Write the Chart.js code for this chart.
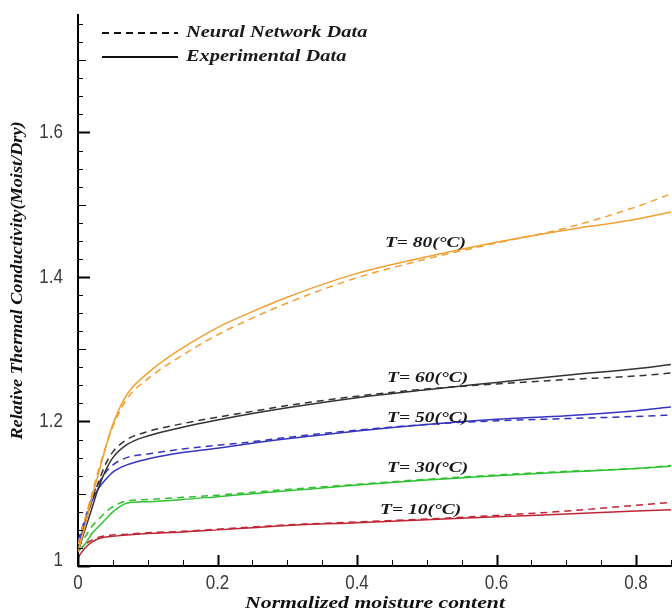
<!DOCTYPE html>
<html>
<head>
<meta charset="utf-8">
<script src="https://cdn.jsdelivr.net/npm/chart.js@4.4.1/dist/chart.umd.min.js"></script>
<style>
  html, body { margin: 0; padding: 0; background: #fff; }
  #wrap { width: 672px; height: 614px; position: relative; }
</style>
</head>
<body>
<div id="wrap"><canvas id="chart"></canvas></div>
<script>
/* ==================== DATA ==================== */

const moisture = [0, 0.01, 0.02, 0.03, 0.04, 0.05, 0.07, 0.1, 0.15, 0.2, 0.25, 0.3, 0.4, 0.5, 0.6, 0.7, 0.8, 0.85];

// experimental (solid) and neural network (dashed) curves
const exp80 = [1.02, 1.055, 1.095, 1.13, 1.165, 1.196, 1.237, 1.267, 1.302, 1.33, 1.352, 1.372, 1.405, 1.428, 1.448, 1.465, 1.480, 1.490];
const nn80  = [1.03, 1.065, 1.10, 1.135, 1.166, 1.193, 1.231, 1.259, 1.292, 1.32, 1.343, 1.364, 1.399, 1.425, 1.447, 1.468, 1.497, 1.515];
const exp60 = [1.02, 1.05, 1.08, 1.11, 1.133, 1.15, 1.168, 1.18, 1.192, 1.202, 1.211, 1.219, 1.233, 1.244, 1.254, 1.264, 1.273, 1.279];
const nn60  = [1.03, 1.06, 1.09, 1.118, 1.142, 1.158, 1.175, 1.186, 1.197, 1.206, 1.214, 1.222, 1.235, 1.245, 1.252, 1.258, 1.263, 1.267];
const exp50 = [1.03, 1.06, 1.09, 1.108, 1.12, 1.13, 1.14, 1.148, 1.157, 1.163, 1.170, 1.176, 1.187, 1.196, 1.203, 1.208, 1.215, 1.220];
const nn50  = [1.035, 1.065, 1.095, 1.115, 1.13, 1.14, 1.15, 1.155, 1.162, 1.167, 1.172, 1.178, 1.188, 1.196, 1.201, 1.204, 1.207, 1.209];
const exp30 = [1.02, 1.03, 1.045, 1.055, 1.065, 1.075, 1.087, 1.089, 1.092, 1.096, 1.100, 1.104, 1.112, 1.119, 1.125, 1.130, 1.135, 1.138];
const nn30  = [1.025, 1.04, 1.055, 1.065, 1.075, 1.082, 1.09, 1.092, 1.095, 1.098, 1.102, 1.106, 1.113, 1.120, 1.126, 1.131, 1.135, 1.139];
const exp10 = [1.012, 1.025, 1.033, 1.038, 1.040, 1.041, 1.043, 1.045, 1.047, 1.050, 1.053, 1.056, 1.060, 1.064, 1.068, 1.072, 1.076, 1.078];
const nn10  = [1.02, 1.03, 1.036, 1.04, 1.042, 1.043, 1.044, 1.046, 1.048, 1.051, 1.054, 1.057, 1.061, 1.065, 1.070, 1.076, 1.084, 1.088];

const xTickValues = [0, 0.2, 0.4, 0.6, 0.8];
const xTickLabels = ['0', '0.2', '0.4', '0.6', '0.8'];
const yTickValues = [1, 1.2, 1.4, 1.6];
const yTickLabels = ['1', '1.2', '1.4', '1.6'];

// curve annotations: text, x, y (data units, left/middle anchor)
const curveLabels = ['T= 80(°C)', 'T= 60(°C)', 'T= 50(°C)', 'T= 30(°C)', 'T= 10(°C)'];
const curveLabelX = [0.44, 0.443, 0.443, 0.443, 0.433];
const curveLabelY = [1.447, 1.260, 1.205, 1.136, 1.078];

const legendNames = ['Neural Network Data', 'Experimental Data'];
const xTitle = 'Normalized moisture content';
const yTitle = 'Relative Thermal Conductivity(Moist/Dry)';

/* ==================== STYLE ==================== */

const COLORS = {
    t80: '#f0a030',
    t60: '#333333',
    t50: '#3535c0',
    t30: '#30c030',
    t10: '#c02535'
};
const DASH = [7, 5];
const SERIF = "'Liberation Serif', 'DejaVu Serif', serif";
const SANS = "'Liberation Sans', Arial, sans-serif";

function pts(ys) {
    return moisture.map((x, i) => ({ x: x, y: ys[i] }));
}

function line(ys, color, dashed) {
    return {
        data: pts(ys),
        borderColor: color,
        borderWidth: 1.5,
        borderDash: dashed ? DASH : [],
        pointRadius: 0,
        fill: false,
        cubicInterpolationMode: 'monotone'
    };
}

// text squeezed/stretched horizontally like the scanned figure
function stretchText(ctx, text, x, y, sx, align, rot) {
    ctx.save();
    ctx.translate(x, y);
    if (rot) ctx.rotate(rot);
    ctx.scale(sx, 1);
    ctx.textAlign = align;
    ctx.fillText(text, 0, 0);
    ctx.restore();
}

/* ==================== PLUGINS ==================== */

const tickMarks = {
    id: 'tickMarks',
    afterDraw(chart) {
        const { ctx, chartArea: a, scales: { x, y } } = chart;
        ctx.save();
        ctx.strokeStyle = '#000';
        // x ticks, every 0.05, major every 0.2
        for (let i = 0; i * 0.05 <= x.max + 1e-9; i++) {
            const px = Math.round(x.getPixelForValue(i * 0.05)) + 0.5;
            const major = i % 4 === 0;
            ctx.lineWidth = major ? 2 : 1;
            ctx.beginPath();
            ctx.moveTo(px, a.bottom);
            ctx.lineTo(px, a.bottom - (major ? 11 : 6));
            ctx.stroke();
        }
        // y ticks, every 0.025, medium every 0.1, major every 0.2
        for (let i = 0; 1 + i * 0.025 <= y.max + 1e-9; i++) {
            const py = Math.round(y.getPixelForValue(1 + i * 0.025)) + 0.5;
            const major = i % 8 === 0;
            const medium = i % 4 === 0;
            ctx.lineWidth = major ? 2 : 1;
            ctx.beginPath();
            ctx.moveTo(a.left, py);
            ctx.lineTo(a.left + (major ? 12 : medium ? 8 : 5), py);
            ctx.stroke();
        }

        // tick labels, tall and narrow
        ctx.fillStyle = '#3a3a3a';
        ctx.font = '20px ' + SANS;
        ctx.textBaseline = 'middle';
        xTickValues.forEach((v, i) => {
            stretchText(ctx, xTickLabels[i], x.getPixelForValue(v), a.bottom + 17, 0.85, 'center');
        });
        yTickValues.forEach((v, i) => {
            const py = y.getPixelForValue(v) - (v === 1 ? 6 : 0);
            stretchText(ctx, yTickLabels[i], a.left - 15, py, 0.85, 'right');
        });

        // axis titles
        ctx.fillStyle = '#111';
        ctx.font = 'italic bold 17px ' + SERIF;
        stretchText(ctx, xTitle, (a.left + a.right) / 2, a.bottom + 38, 1.28, 'center');
        ctx.font = 'italic bold 16px ' + SERIF;
        stretchText(ctx, yTitle, 18, (a.top + a.bottom) / 2 - 10, 1.14, 'center', -Math.PI / 2);
        ctx.restore();
    }
};

const annotations = {
    id: 'annotations',
    afterDatasetsDraw(chart) {
        const { ctx, chartArea: a, scales: { x, y } } = chart;
        ctx.save();
        ctx.fillStyle = '#1a1a1a';
        ctx.font = 'italic bold 15px ' + SERIF;
        ctx.textBaseline = 'middle';
        curveLabels.forEach((t, i) => {
            stretchText(ctx, t, x.getPixelForValue(curveLabelX[i]), y.getPixelForValue(curveLabelY[i]), 1.3, 'left');
        });

        // legend, top-left of plot
        const lx = a.left + 24, lw = 76;
        const rows = [a.top + 18, a.top + 42];
        ctx.strokeStyle = '#111';
        ctx.lineWidth = 2;
        ctx.font = 'italic bold 17px ' + SERIF;
        rows.forEach((ry, i) => {
            ctx.setLineDash(i === 0 ? DASH : []);
            ctx.beginPath();
            ctx.moveTo(lx, ry);
            ctx.lineTo(lx + lw, ry);
            ctx.stroke();
            ctx.setLineDash([]);
            stretchText(ctx, legendNames[i], lx + lw + 8, ry, 1.2, 'left');
        });
        ctx.restore();
    }
};

/* ==================== CHART ==================== */

new Chart(document.getElementById('chart'), {
    type: 'line',
    data: {
        datasets: [
            line(nn80, COLORS.t80, true), line(exp80, COLORS.t80, false),
            line(nn60, COLORS.t60, true), line(exp60, COLORS.t60, false),
            line(nn50, COLORS.t50, true), line(exp50, COLORS.t50, false),
            line(nn30, COLORS.t30, true), line(exp30, COLORS.t30, false),
            line(nn10, COLORS.t10, true), line(exp10, COLORS.t10, false)
        ]
    },
    options: {
        responsive: true,
        maintainAspectRatio: false,
        animation: false,
        layout: { padding: { top: 15, left: 0, right: 0, bottom: 0 } },
        plugins: {
            legend: { display: false },
            tooltip: { enabled: false }
        },
        scales: {
            x: {
                type: 'linear',
                min: 0,
                max: 0.8516,
                afterBuildTicks: s => { s.ticks = xTickValues.map(v => ({ value: v })); },
                afterFit: s => { s.height = 48; },
                grid: { display: false, drawTicks: false },
                border: { display: true, color: '#000', width: 2 },
                ticks: { display: false }
            },
            y: {
                min: 1,
                max: 1.7626,
                afterBuildTicks: s => { s.ticks = yTickValues.map(v => ({ value: v })); },
                afterFit: s => { s.width = 78; },
                grid: { display: false, drawTicks: false },
                border: { display: true, color: '#000', width: 2 },
                ticks: { display: false }
            }
        }
    },
    plugins: [tickMarks, annotations]
});
</script>
</body>
</html>
